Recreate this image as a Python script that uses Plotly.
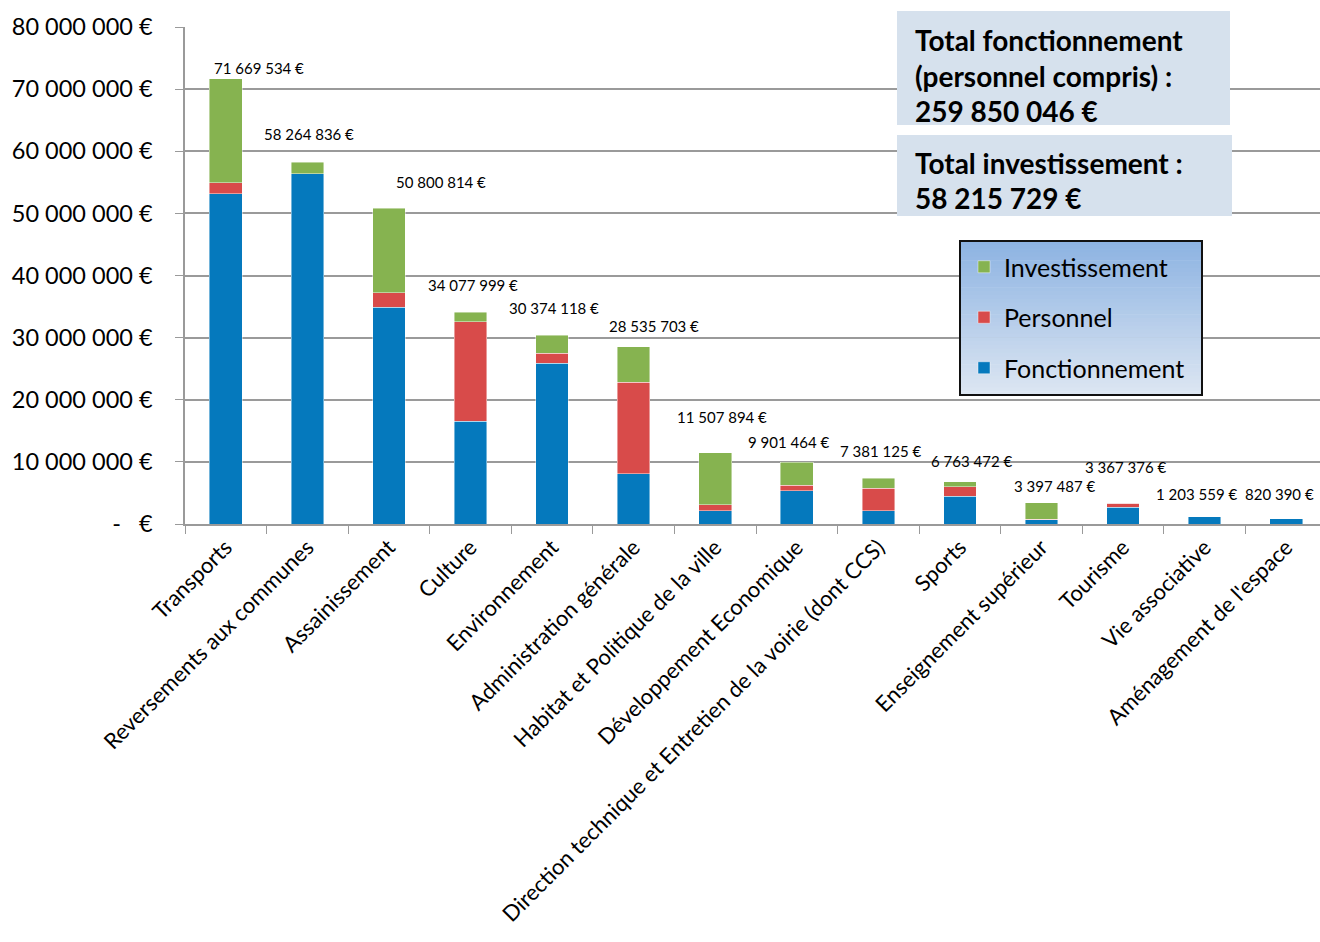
import plotly.graph_objects as go

# ---------------- data ----------------
categories = ["Transports", "Reversements aux communes", "Assainissement", "Culture",
              "Environnement", "Administration générale", "Habitat et Politique de la ville",
              "Développement Economique", "Direction technique et Entretien de la voirie (dont CCS)",
              "Sports", "Enseignement supérieur", "Tourisme", "Vie associative",
              "Aménagement de l'espace"]
fonctionnement = [53200000, 56350000, 34900000, 16550000, 25850000, 8050000, 2100000,
                  5350000, 2150000, 4500000, 700000, 2700000, 1203559, 820390]
personnel = [1750000, 0, 2300000, 16000000, 1600000, 14800000, 1000000,
             900000, 3600000, 1500000, 100000, 667376, 0, 0]
investissement = [16719534, 1914836, 13600814, 1527999, 2924118, 5685703, 8407894,
                  3651464, 1631125, 763472, 2597487, 0, 0, 0]
totals = [71669534, 58264836, 50800814, 34077999, 30374118, 28535703, 11507894,
          9901464, 7381125, 6763472, 3397487, 3367376, 1203559, 820390]
total_labels = ["71 669 534 €", "58 264 836 €", "50 800 814 €", "34 077 999 €",
                "30 374 118 €", "28 535 703 €", "11 507 894 €", "9 901 464 €",
                "7 381 125 €", "6 763 472 €", "3 397 487 €", "3 367 376 €",
                "1 203 559 €", "820 390 €"]
y_tickvals = [0, 10000000, 20000000, 30000000, 40000000, 50000000, 60000000, 70000000, 80000000]
y_ticktext = ["-   €", "10 000 000 €", "20 000 000 €", "30 000 000 €", "40 000 000 €",
              "50 000 000 €", "60 000 000 €", "70 000 000 €", "80 000 000 €"]
box1_lines = ["Total fonctionnement", "(personnel compris) :", "259 850 046 €"]
box2_lines = ["Total investissement :", "58 215 729 €"]

# ---------------- style / layout ----------------
W, H = 1320, 942
ML, MR, MT, MB = 185, 0, 27, 418
FONT = "Lato, 'Open Sans', sans-serif"
C_BLUE, C_RED, C_GREEN = "#0579BD", "#D84B4A", "#86B350"
GRID = "#9a9a9a"

# per-label offsets (pixels) of the value labels relative to bar tops
label_dx = [33, 2, 52, 2, 2, 20, 7, -8, 2, 12, 13, 2, -8, -7]
label_dy = [11, 28, 26, 27, 27, 21, 36, 20, 27, 21, 17, 36, 23, 25]

def px2x(px):
    return (px - ML) / (W - ML - MR)

def py2y(py):
    return (H - MB - py) / (H - MB - MT)

fig = go.Figure()
line_style = dict(color="rgba(255,255,255,0.55)", width=0.8)
fig.add_bar(x=categories, y=fonctionnement, name="Fonctionnement", marker_color=C_BLUE,
            marker_line=line_style, legendgroup="f", legendrank=3)
fig.add_bar(x=categories, y=personnel, name="Personnel", marker_color=C_RED,
            marker_line=line_style, legendgroup="p", legendrank=2)
fig.add_bar(x=categories, y=investissement, name="Investissement", marker_color=C_GREEN,
            marker_line=line_style, legendgroup="i", legendrank=1)

annotations = []
for i, (cat, tot, lab) in enumerate(zip(categories, totals, total_labels)):
    annotations.append(dict(x=cat, y=tot, xref="x", yref="y", text=lab, showarrow=False,
                            xanchor="center", yanchor="middle",
                            xshift=label_dx[i], yshift=label_dy[i],
                            font=dict(family=FONT, size=15, color="#000")))

shapes = []
# text boxes
shapes.append(dict(type="rect", xref="paper", yref="paper", x0=px2x(897), x1=px2x(1230),
                   y0=py2y(125), y1=py2y(11), fillcolor="#D6E1ED", line=dict(width=0),
                   layer="above"))
shapes.append(dict(type="rect", xref="paper", yref="paper", x0=px2x(897), x1=px2x(1232),
                   y0=py2y(216), y1=py2y(135), fillcolor="#D6E1ED", line=dict(width=0),
                   layer="above"))
for txt, yc in zip(box1_lines, [40, 76, 111]):
    annotations.append(dict(x=px2x(913), y=py2y(yc), xref="paper", yref="paper", text="<b>%s</b>" % txt,
                            showarrow=False, xanchor="left", yanchor="middle",
                            font=dict(family=FONT, size=28, color="#000")))
for txt, yc in zip(box2_lines, [163, 198]):
    annotations.append(dict(x=px2x(913), y=py2y(yc), xref="paper", yref="paper", text="<b>%s</b>" % txt,
                            showarrow=False, xanchor="left", yanchor="middle",
                            font=dict(family=FONT, size=28, color="#000")))

# legend box with vertical gradient
lx0, lx1, ly0, ly1 = 960, 1202, 241, 395
top_rgb = (0x8D, 0xB3, 0xE2)
bot_rgb = (0xDC, 0xE6, 0xF2)
n = 40
for s in range(n):
    t = s / (n - 1)
    col = tuple(int(round(a + (b - a) * t)) for a, b in zip(top_rgb, bot_rgb))
    ya = ly0 + (ly1 - ly0) * s / n
    yb = ly0 + (ly1 - ly0) * (s + 1) / n + 0.6
    shapes.append(dict(type="rect", xref="paper", yref="paper", x0=px2x(lx0), x1=px2x(lx1),
                       y0=py2y(min(yb, ly1)), y1=py2y(ya), fillcolor="rgb(%d,%d,%d)" % col,
                       line=dict(width=0), layer="above"))
shapes.append(dict(type="rect", xref="paper", yref="paper", x0=px2x(lx0), x1=px2x(lx1),
                   y0=py2y(ly1), y1=py2y(ly0), line=dict(color="#111", width=2),
                   fillcolor="rgba(0,0,0,0)", layer="above"))

fig.update_layout(
    width=W, height=H,
    margin=dict(l=ML, r=MR, t=MT, b=MB, pad=0, autoexpand=False),
    paper_bgcolor="white", plot_bgcolor="white",
    barmode="stack", bargap=0.6,
    font=dict(family=FONT, size=22, color="#000"),
    showlegend=True,
    legend=dict(x=px2x(964), y=py2y(244), xanchor="left", yanchor="top",
                bgcolor="rgba(0,0,0,0)", borderwidth=0,
                traceorder="grouped", tracegroupgap=15,
                font=dict(family=FONT, size=25, color="#000")),
    annotations=annotations,
    shapes=shapes,
)
fig.update_xaxes(
    tickangle=-45, tickson="boundaries", ticks="outside", ticklen=8, tickcolor=GRID,
    showline=True, linecolor=GRID, linewidth=1.5, showgrid=False, automargin=False,
    range=[-0.5, 13.5 - 7 / 81.6],
    tickfont=dict(family=FONT, size=22, color="#000"),
)
fig.update_yaxes(
    range=[0, 80000000], tickvals=y_tickvals, ticktext=y_ticktext,
    ticks="outside", ticklen=8, tickcolor=GRID, showline=True, linecolor=GRID, linewidth=1.5,
    showgrid=True, gridcolor=GRID, gridwidth=1.5, zeroline=False, automargin=False,
    ticklabelstandoff=18,
    tickfont=dict(family=FONT, size=23.5, color="#000"),
)
fig.write_html("out.html", config={"displayModeBar": False},
               post_script="document.body.style.margin='0';")
